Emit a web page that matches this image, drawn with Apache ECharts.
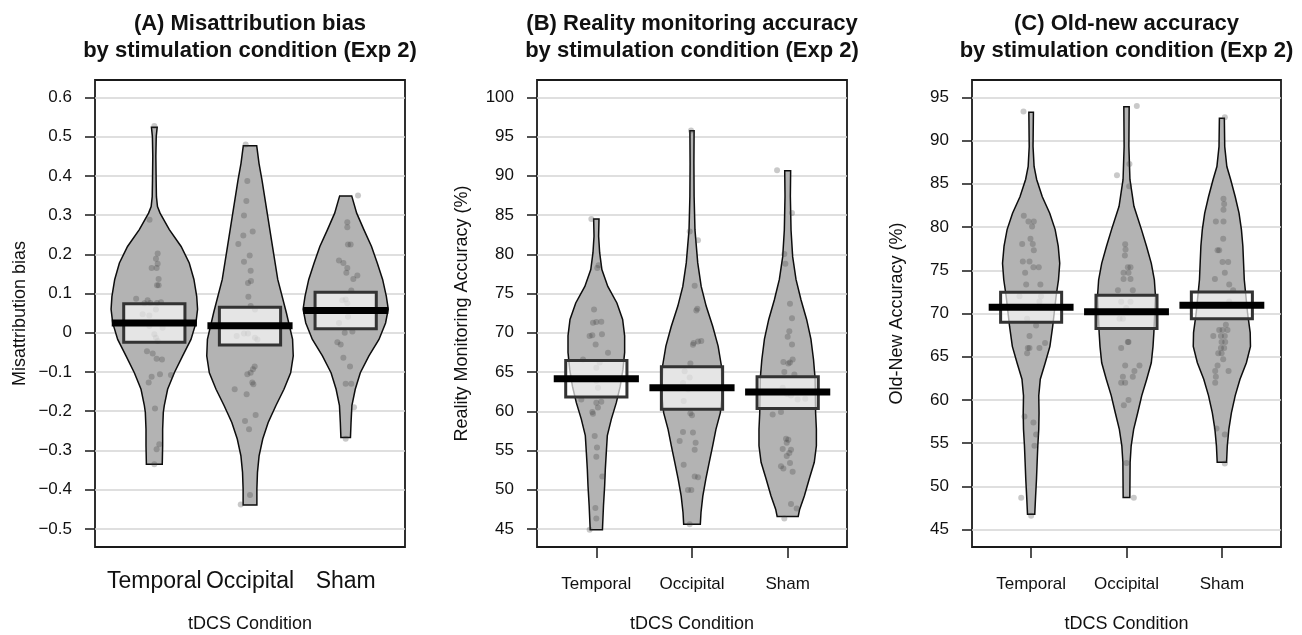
<!DOCTYPE html>
<html>
<head>
<meta charset="utf-8">
<script src="https://cdn.jsdelivr.net/npm/echarts@6/dist/echarts.min.js"></script>
<style>
html,body{margin:0;padding:0;background:#fff;}
#chart{width:1302px;height:635px;}
</style>
</head>
<body>
<div id="chart"></div>
<script>
// ---------------- DATA ----------------
const categories = ['Temporal', 'Occipital', 'Sham'];

const titleLines = [
  ['(A) Misattribution bias', 'by stimulation condition (Exp 2)'],
  ['(B) Reality monitoring accuracy', 'by stimulation condition (Exp 2)'],
  ['(C) Old-new accuracy', 'by stimulation condition (Exp 2)']
];
const yTitles = ['Misattribution bias', 'Reality Monitoring Accuracy (%)', 'Old-New Accuracy (%)'];
const xTitle = 'tDCS Condition';

const yTicksA = [-0.5, -0.4, -0.3, -0.2, -0.1, 0, 0.1, 0.2, 0.3, 0.4, 0.5, 0.6];
const yTicksB = [45, 50, 55, 60, 65, 70, 75, 80, 85, 90, 95, 100];
const yTicksC = [45, 50, 55, 60, 65, 70, 75, 80, 85, 90, 95];

// means and inference bands (lower, upper)
const meansA = [0.025, 0.018, 0.057];
const ciLowA = [-0.024, -0.031, 0.010];
const ciHighA = [0.074, 0.065, 0.103];
const meansB = [64.15, 63.0, 62.46];
const ciLowB = [61.82, 60.25, 60.34];
const ciHighB = [66.48, 65.68, 64.41];
const meansC = [70.73, 70.19, 70.96];
const ciLowC = [69.0, 68.27, 69.4];
const ciHighC = [72.46, 72.1, 72.5];

// raw observations
const valsA_Temporal = [0.527,0.288,0.202,0.189,0.176,0.165,0.165,0.137,0.121,0.121,0.087,0.083,0.075,0.076,0.076,0.078,0.047,0.044,0.059,0.013,0.017,-0.004,-0.013,-0.021,-0.047,-0.053,-0.066,-0.068,-0.108,-0.106,-0.112,-0.127,-0.193,-0.284,-0.297,-0.335];
const jitA_Temporal = [0,-0.05,0.035,0.017,0.035,-0.028,0.024,0.045,0.028,0.045,-0.19,-0.07,-0.104,-0.042,0.028,0.07,-0.122,-0.052,0.017,0.087,-0.052,0,0.017,0.035,-0.077,-0.017,0.024,0.08,0.174,0.059,-0.028,-0.059,0.007,0.052,0.024,0];
const valsA_Occipital = [0.48,0.387,0.336,0.299,0.248,0.258,0.226,0.197,0.181,0.158,0.127,0.132,0.092,0.068,0.059,-0.008,-0.002,-0.002,-0.013,-0.017,-0.086,-0.093,-0.106,-0.102,-0.127,-0.131,-0.144,-0.157,-0.21,-0.225,-0.246,-0.414,-0.438];
const jitA_Occipital = [-0.045,-0.028,-0.038,-0.063,-0.07,0.028,-0.122,-0.003,-0.063,0.007,-0.021,0.01,-0.017,0.007,0.052,-0.139,-0.063,-0.021,0.052,0.077,0.049,0.031,-0.028,0.007,0.024,0.035,-0.16,-0.035,0.059,-0.052,-0.01,0,-0.097];
const valsA_Sham = [0.35,0.282,0.269,0.225,0.225,0.184,0.178,0.165,0.153,0.146,0.137,0.108,0.083,0.085,0.075,0.041,0.025,0.0,0.003,-0.024,-0.03,-0.064,-0.086,-0.13,-0.13,-0.19,-0.27];
const jitA_Sham = [0.129,0.017,0.017,0.024,0.052,-0.07,-0.024,0.017,0.007,0.122,0.08,0.059,-0.035,0,0.017,0.024,-0.07,-0.01,0.07,-0.087,-0.052,-0.024,0.045,0,0.059,0.087,0];

const valsB_Temporal = [84.49,78.26,78.6,72.97,71.27,71.36,71.4,69.58,69.7,69.8,68.5,67.46,66.6,65.55,66.2,63.0,63.9,61.5,61.1,61.2,60.47,59.9,59.7,56.86,55.4,54.2,51.7,47.67,46.35,44.9];
const jitB_Temporal = [-0.052,0.01,0.024,-0.024,-0.035,0,0.052,-0.07,-0.042,0.059,-0.007,0.122,-0.139,0,0.035,0.017,0,-0.157,0,0.052,0.017,-0.042,-0.035,-0.017,0.007,0,0.063,-0.01,0,-0.07];
const valsB_Occipital = [95.76,82.9,81.78,76.0,73.05,72.84,68.47,68.7,68.9,68.94,66.1,65.1,64.3,63.6,62.8,61.3,59.75,59.5,57.37,57.3,56.2,56.0,55.1,53.2,51.7,51.6,49.97,49.97,45.6];
const jitB_Occipital = [-0.01,-0.024,0.063,0.028,0.056,0.045,0.01,0.017,0.063,0.097,-0.017,-0.077,-0.024,-0.094,-0.042,-0.087,-0.017,0,-0.094,0.01,-0.129,0.038,0.028,-0.087,0.028,0.063,-0.042,-0.007,-0.024];
const valsB_Sham = [90.7,85.25,80.04,78.8,73.7,71.86,70.2,69.5,68.5,66.27,66.1,66.2,66.6,65.0,64.7,63.0,62.2,62.0,61.6,61.5,59.6,59.9,56.5,56.36,56.0,55.2,55.1,54.3,54.7,53.0,52.7,53.4,52.3,48.2,47.6,46.35];
const jitB_Sham = [-0.111,0.045,-0.035,-0.024,0.024,0.045,0.017,0,0.045,-0.045,0.007,0.024,0.052,-0.035,0.07,-0.052,-0.007,0.035,0.184,0.104,-0.157,-0.07,-0.017,0.007,-0.01,-0.052,0.035,-0.01,0.017,-0.07,-0.045,0.024,0.052,0.035,0.094,-0.035];

const valsC_Temporal = [93.35,81.3,80.65,80.65,80.07,78.65,78.04,78.04,77.3,76.0,76.0,75.35,75.35,74.7,73.35,73.35,72.0,72.0,71.4,69.4,68.6,67.4,66.6,66.0,66.0,66.0,65.4,58.1,57.4,56.0,54.7,48.7,46.6];
const jitC_Temporal = [-0.08,-0.077,-0.028,0.028,0.01,-0.007,-0.094,0.017,0.028,-0.087,-0.017,0.024,0.08,-0.063,-0.052,0.097,-0.122,0.104,0.087,-0.042,0.052,-0.017,0.146,-0.035,-0.017,0.087,-0.042,-0.07,0.024,0.052,0.035,-0.104,0];
const valsC_Occipital = [94.0,87.3,86.0,84.7,78.0,77.4,76.7,75.35,75.35,74.7,74.7,74.0,74.0,72.7,72.7,71.35,71.35,70.65,69.4,69.4,66.7,66.7,66.0,64.0,64.0,63.35,62.7,62.7,62.0,62.0,60.0,59.4,52.7,48.7];
const jitC_Occipital = [0.108,0.031,-0.1,0.028,-0.014,-0.01,-0.017,0.014,0.042,-0.031,0.021,-0.031,0.042,-0.09,0.066,-0.056,0.042,-0.003,-0.073,-0.038,0.021,0.014,-0.056,-0.014,0.136,0.083,-0.038,0.066,-0.056,-0.014,0.021,-0.028,0,0.077];
const valsC_Sham = [92.7,83.27,82.65,82.0,80.65,80.65,78.65,77.3,77.3,75.96,75.96,74.7,74.0,73.35,72.7,71.4,68.7,68.1,68.1,68.1,67.4,67.4,67.4,66.7,66.7,66.0,66.0,65.4,65.4,64.7,64.0,63.35,63.35,62.7,62.0,56.7,56.0,52.65];
const jitC_Sham = [0.031,0.017,0.024,0.017,-0.063,0.017,0.014,-0.045,-0.028,0.007,0.066,0.031,-0.073,0.077,0.118,0.077,0.042,-0.028,0.007,0.059,-0.09,-0.01,0.031,-0.003,0.035,-0.01,0.024,-0.003,-0.038,0.014,-0.045,-0.07,0.07,-0.063,-0.07,-0.056,0.031,0.031];

// bean density profiles: [value, half width in category units]
const beanA_Temporal = [[0.524,0.03],[0.5,0.02],[0.45,0.016],[0.39,0.019],[0.347,0.022],[0.322,0.033],[0.305,0.06],[0.263,0.157],[0.22,0.28],[0.178,0.365],[0.136,0.414],[0.093,0.443],[0.06,0.452],[0.025,0.435],[-0.017,0.383],[-0.059,0.296],[-0.102,0.209],[-0.144,0.139],[-0.186,0.104],[-0.203,0.094],[-0.246,0.087],[-0.288,0.087],[-0.335,0.083]];
const beanA_Occipital = [[0.477,0.07],[0.432,0.094],[0.39,0.125],[0.305,0.18],[0.22,0.235],[0.136,0.29],[0.051,0.38],[-0.017,0.445],[-0.059,0.452],[-0.102,0.425],[-0.144,0.355],[-0.186,0.27],[-0.229,0.19],[-0.271,0.133],[-0.314,0.095],[-0.356,0.078],[-0.398,0.072],[-0.439,0.072]];
const beanA_Sham = [[0.349,0.063],[0.305,0.115],[0.263,0.19],[0.22,0.27],[0.178,0.33],[0.136,0.386],[0.093,0.425],[0.06,0.445],[0.025,0.417],[-0.017,0.348],[-0.059,0.243],[-0.102,0.153],[-0.144,0.1],[-0.186,0.065],[-0.229,0.056],[-0.267,0.05]];

const beanB_Temporal = [[84.49,0.028],[82.3,0.024],[80.2,0.035],[78.05,0.058],[75.9,0.12],[73.8,0.215],[71.7,0.275],[69.6,0.296],[67.5,0.296],[65.3,0.278],[63.2,0.25],[61.1,0.209],[59.0,0.157],[56.9,0.115],[54.7,0.104],[52.6,0.094],[50.5,0.087],[48.0,0.075],[44.9,0.064]];
const beanB_Occipital = [[95.72,0.022],[91.6,0.02],[87.4,0.022],[83.1,0.031],[78.9,0.06],[75.9,0.096],[73.4,0.148],[70.8,0.217],[68.3,0.273],[65.8,0.307],[62.0,0.315],[59.8,0.296],[57.7,0.25],[55.6,0.216],[53.5,0.18],[51.4,0.145],[49.2,0.113],[47.1,0.094],[45.6,0.087]];
const beanB_Sham = [[90.63,0.031],[87.4,0.028],[83.1,0.035],[79.7,0.052],[76.8,0.087],[74.2,0.139],[71.7,0.198],[69.2,0.243],[66.6,0.27],[64.1,0.287],[59.8,0.292],[57.7,0.3],[55.6,0.3],[53.5,0.278],[51.4,0.226],[49.2,0.174],[47.5,0.125],[46.6,0.11]];

const beanC_Temporal = [[93.27,0.024],[89.3,0.02],[87.0,0.031],[85.5,0.058],[83.5,0.117],[81.6,0.195],[79.7,0.252],[77.8,0.284],[75.8,0.3],[73.9,0.287],[72.0,0.262],[68.5,0.226],[66.2,0.197],[64.3,0.148],[62.4,0.096],[60.5,0.08],[58.5,0.083],[56.6,0.08],[54.7,0.07],[52.8,0.063],[50.8,0.056],[48.9,0.047],[46.8,0.038]];
const beanC_Occipital = [[93.92,0.028],[89.3,0.025],[85.5,0.036],[82.4,0.078],[79.7,0.157],[77.8,0.209],[75.8,0.26],[73.9,0.292],[72.0,0.304],[67.8,0.287],[66.2,0.278],[64.3,0.26],[62.4,0.212],[60.5,0.16],[58.5,0.117],[56.6,0.075],[54.7,0.049],[52.8,0.038],[48.73,0.035]];
const beanC_Sham = [[92.58,0.026],[89.3,0.03],[87.0,0.052],[85.5,0.092],[83.5,0.14],[81.6,0.18],[79.7,0.205],[77.8,0.22],[73.9,0.235],[70.0,0.27],[67.8,0.297],[66.2,0.3],[64.3,0.257],[62.4,0.19],[60.5,0.14],[58.5,0.1],[56.6,0.073],[54.7,0.057],[52.8,0.049]];

// ---------------- BUILD ----------------
const FONT = '"Liberation Sans", Arial, Helvetica, sans-serif';
const INK = '#111';
const BOX_HALF = 0.32;
const BAR_HALF = 0.445;

const panels = [
  { left: 95, width: 310, ymin: -0.5463, ymax: 0.6445, ticks: yTicksA, xLabelSize: 23, xLabelMargin: 23,
    means: meansA, lo: ciLowA, hi: ciHighA,
    beans: [beanA_Temporal, beanA_Occipital, beanA_Sham],
    vals: [valsA_Temporal, valsA_Occipital, valsA_Sham], jit: [jitA_Temporal, jitA_Occipital, jitA_Sham] },
  { left: 537, width: 310, ymin: 42.71, ymax: 102.2, ticks: yTicksB, xLabelSize: 17, xLabelMargin: 29,
    means: meansB, lo: ciLowB, hi: ciHighB,
    beans: [beanB_Temporal, beanB_Occipital, beanB_Sham],
    vals: [valsB_Temporal, valsB_Occipital, valsB_Sham], jit: [jitB_Temporal, jitB_Occipital, jitB_Sham] },
  { left: 972, width: 309, ymin: 43.0, ymax: 97.0, ticks: yTicksC, xLabelSize: 17, xLabelMargin: 29,
    means: meansC, lo: ciLowC, hi: ciHighC,
    beans: [beanC_Temporal, beanC_Occipital, beanC_Sham],
    vals: [valsC_Temporal, valsC_Occipital, valsC_Sham], jit: [jitC_Temporal, jitC_Occipital, jitC_Sham] }
];

const grids = [], xAxes = [], yAxes = [], series = [], graphics = [];

panels.forEach((p, gi) => {
  grids.push({ left: p.left, top: 80, width: p.width, height: 467, show: true,
    outerBoundsMode: 'none',
    borderColor: '#1a1a1a', borderWidth: 1.8, backgroundColor: 'transparent', containLabel: false });

  xAxes.push({
    gridIndex: gi, type: 'value', min: 0.38, max: 3.62,
    axisLine: { show: false }, splitLine: { show: false },
    axisTick: { show: true, customValues: [1, 2, 3], length: 11, lineStyle: { color: '#1a1a1a', width: 1.5 } },
    axisLabel: { customValues: [1, 2, 3], formatter: v => categories[Math.round(v) - 1],
      fontSize: p.xLabelSize, color: INK, fontFamily: FONT, margin: p.xLabelMargin },
    name: xTitle, nameLocation: 'middle', nameGap: 68,
    nameTextStyle: { fontSize: 18, color: INK, fontFamily: FONT }
  });

  yAxes.push({
    gridIndex: gi, type: 'value', min: p.ymin, max: p.ymax,
    axisLine: { show: false },
    axisTick: { show: true, customValues: p.ticks, length: 10, lineStyle: { color: '#1a1a1a', width: 1.5 } },
    axisLabel: { customValues: p.ticks, fontSize: 17, color: INK, fontFamily: FONT, margin: 23,
      formatter: v => String(v).replace('-', '\u2212') },
    splitLine: { show: true, lineStyle: { color: '#d4d4d4', width: 1.5 } },
    name: yTitles[gi], nameLocation: 'middle', nameGap: 66, nameRotate: 90,
    nameTextStyle: { fontSize: 18, color: INK, fontFamily: FONT }
  });

  const centers = categories.map((c, i) => [i + 1, p.means[i]]);

  // beans
  series.push({
    type: 'custom', xAxisIndex: gi, yAxisIndex: gi, z: 2, silent: true,
    data: centers,
    renderItem: (params, api) => {
      const i = params.dataIndex;
      const pos = i + 1;
      const prof = p.beans[i];
      const right = prof.map(d => api.coord([pos + d[1], d[0]]));
      const left = prof.slice().reverse().map(d => api.coord([pos - d[1], d[0]]));
      return { type: 'polygon', shape: { points: right.concat(left) },
        style: { fill: '#b3b3b3', stroke: '#0d0d0d', lineWidth: 1.5 } };
    }
  });

  // points
  const pts = [];
  p.vals.forEach((arr, i) => arr.forEach((v, k) => pts.push([i + 1 + p.jit[i][k], v])));
  series.push({
    type: 'scatter', xAxisIndex: gi, yAxisIndex: gi, z: 3, silent: true,
    data: pts, symbol: 'circle', symbolSize: 6,
    itemStyle: { color: 'rgba(60,60,60,0.34)', borderWidth: 0 }
  });

  // inference bands
  series.push({
    type: 'custom', xAxisIndex: gi, yAxisIndex: gi, z: 4, silent: true,
    data: categories.map((c, i) => [i + 1, p.lo[i], p.hi[i]]),
    renderItem: (params, api) => {
      const pos = api.value(0);
      const a = api.coord([pos - BOX_HALF, api.value(2)]);
      const b = api.coord([pos + BOX_HALF, api.value(1)]);
      return { type: 'rect', shape: { x: a[0], y: a[1], width: b[0] - a[0], height: b[1] - a[1] },
        style: { fill: 'rgba(255,255,255,0.66)', stroke: '#333', lineWidth: 3 } };
    }
  });

  // mean bars
  series.push({
    type: 'custom', xAxisIndex: gi, yAxisIndex: gi, z: 5, silent: true,
    data: centers,
    renderItem: (params, api) => {
      const pos = api.value(0);
      const a = api.coord([pos - BAR_HALF, api.value(1)]);
      const b = api.coord([pos + BAR_HALF, api.value(1)]);
      return { type: 'line', shape: { x1: a[0], y1: a[1], x2: b[0], y2: b[1] },
        style: { stroke: '#000', lineWidth: 7, lineCap: 'butt' } };
    }
  });

  // titles
  const cx = p.left + p.width / 2;
  titleLines[gi].forEach((t, li) => {
    graphics.push({ type: 'text', x: cx, y: 24 + li * 27, silent: true,
      style: { text: t, font: 'bold 22px ' + FONT, fill: INK,
        align: 'center', verticalAlign: 'middle', textAlign: 'center', textVerticalAlign: 'middle' } });
  });
});

const chart = echarts.init(document.getElementById('chart'), null, { renderer: 'canvas' });
chart.setOption({
  animation: false,
  backgroundColor: '#fff',
  grid: grids, xAxis: xAxes, yAxis: yAxes, series: series,
  graphic: { elements: graphics }
});
</script>
</body>
</html>
